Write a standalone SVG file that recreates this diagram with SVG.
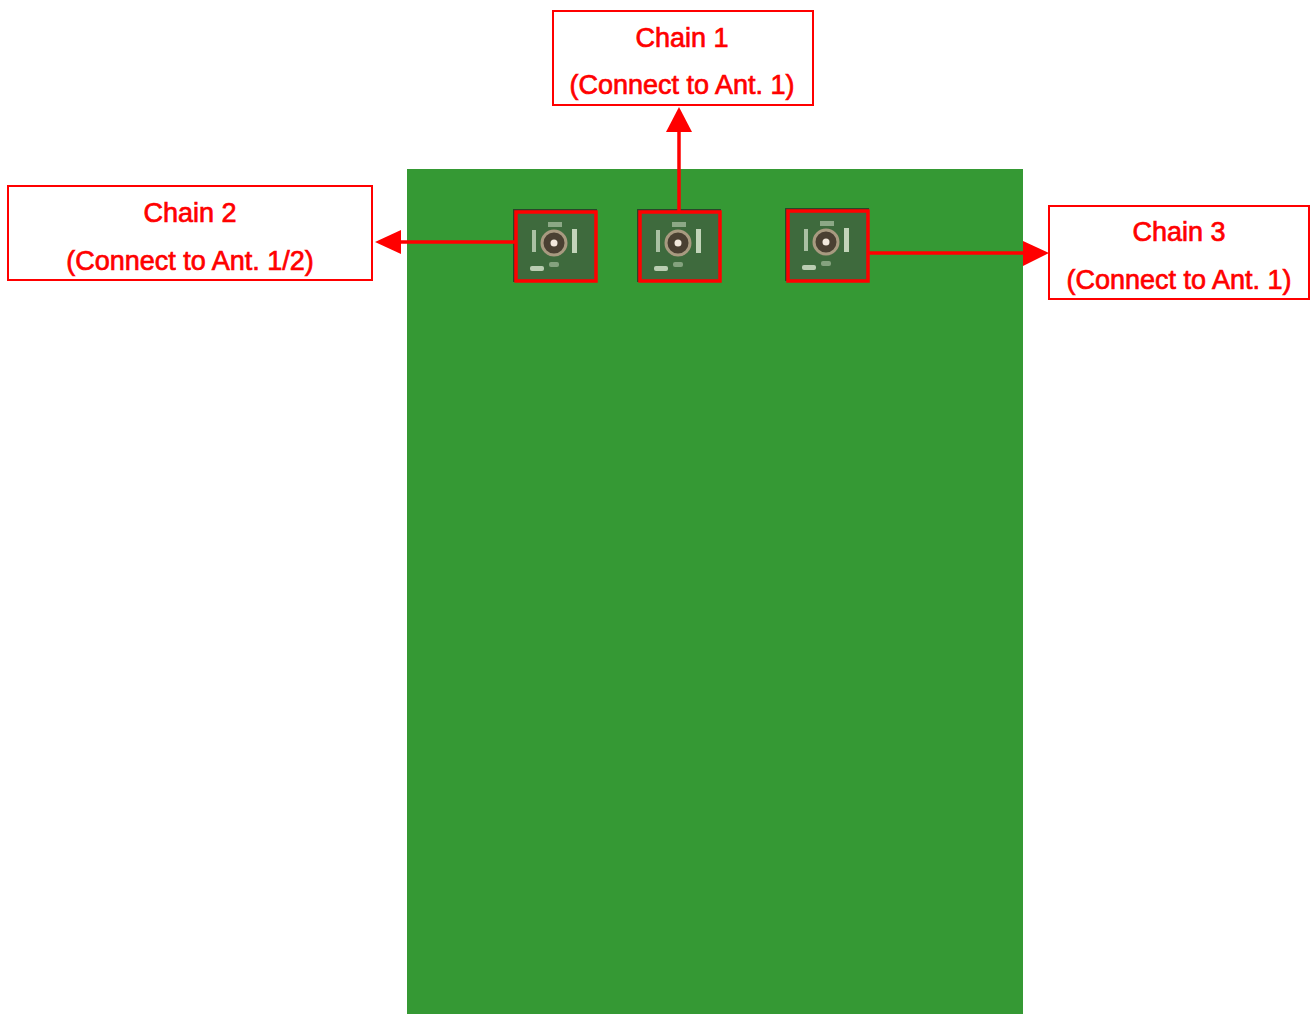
<svg xmlns="http://www.w3.org/2000/svg" width="1313" height="1014" viewBox="0 0 1313 1014">
<defs>
<style>
.box{fill:#fff;stroke:#ff0000;stroke-width:2}
.lbl{font-family:"Liberation Sans",Arial,sans-serif;font-size:27px;fill:#ff0000;stroke:#ff0000;stroke-width:0.7;text-anchor:middle}
.wire{stroke:#ff0000;stroke-width:3.5;fill:none}
.head{fill:#ff0000}
.frame{fill:none;stroke:#ff0000;stroke-width:3.5}
.shadow{fill:#29472a}
.pad{fill:#3e6a3d}
.ring{fill:#4a4032;stroke:#a89a80;stroke-width:3}
.dot{fill:#f2e8dc}
.lite{fill:#d9e6cf}
</style>
<g id="conn">
<rect class="shadow" x="-3" y="-3" width="84" height="73"/>
<rect class="pad" x="0" y="0" width="81" height="70"/>
<rect class="lite" x="16" y="18" width="4" height="22" opacity="0.7"/>
<rect class="lite" x="56" y="17" width="5" height="24" opacity="0.85"/>
<rect class="lite" x="32" y="10" width="14" height="5" opacity="0.5"/>
<circle class="ring" cx="38" cy="31" r="12"/>
<circle class="dot" cx="38" cy="31" r="3.5"/>
<rect class="lite" x="14" y="54" width="14" height="5" rx="2" opacity="0.8"/>
<rect class="lite" x="33" y="50" width="10" height="5" rx="2" opacity="0.45"/>
</g>
</defs>
<rect width="1313" height="1014" fill="#ffffff"/>
<g id="board">
<rect x="407" y="169" width="616" height="845" fill="#359934"/>
</g>
<g id="connector-2">
<use href="#conn" x="516" y="212"/>
<rect class="frame" x="516" y="212" width="80" height="69"/>
</g>
<g id="connector-1">
<use href="#conn" x="640" y="212"/>
<rect class="frame" x="640" y="212" width="80" height="69"/>
</g>
<g id="connector-3">
<use href="#conn" x="788" y="211"/>
<rect class="frame" x="788" y="211" width="80" height="70"/>
</g>
<g id="connectors">
<line class="wire" x1="679" y1="211" x2="679" y2="130"/>
<polygon class="head" points="679,107 666,132 692,132"/>
<line class="wire" x1="516" y1="242" x2="398" y2="242"/>
<polygon class="head" points="375,242 401,230 401,254"/>
<line class="wire" x1="868" y1="253" x2="1026" y2="253"/>
<polygon class="head" points="1049,253 1023,241 1023,266"/>
</g>
<g id="chain-1">
<rect class="box" x="553" y="11" width="260" height="94"/>
<text class="lbl" x="682" y="47">Chain 1</text>
<text class="lbl" x="682" y="94">(Connect to Ant. 1)</text>
</g>
<g id="chain-2">
<rect class="box" x="8" y="186" width="364" height="94"/>
<text class="lbl" x="190" y="222">Chain 2</text>
<text class="lbl" x="190" y="270">(Connect to Ant. 1/2)</text>
</g>
<g id="chain-3">
<rect class="box" x="1049" y="206" width="260" height="93"/>
<text class="lbl" x="1179" y="241">Chain 3</text>
<text class="lbl" x="1179" y="289">(Connect to Ant. 1)</text>
</g>
</svg>
